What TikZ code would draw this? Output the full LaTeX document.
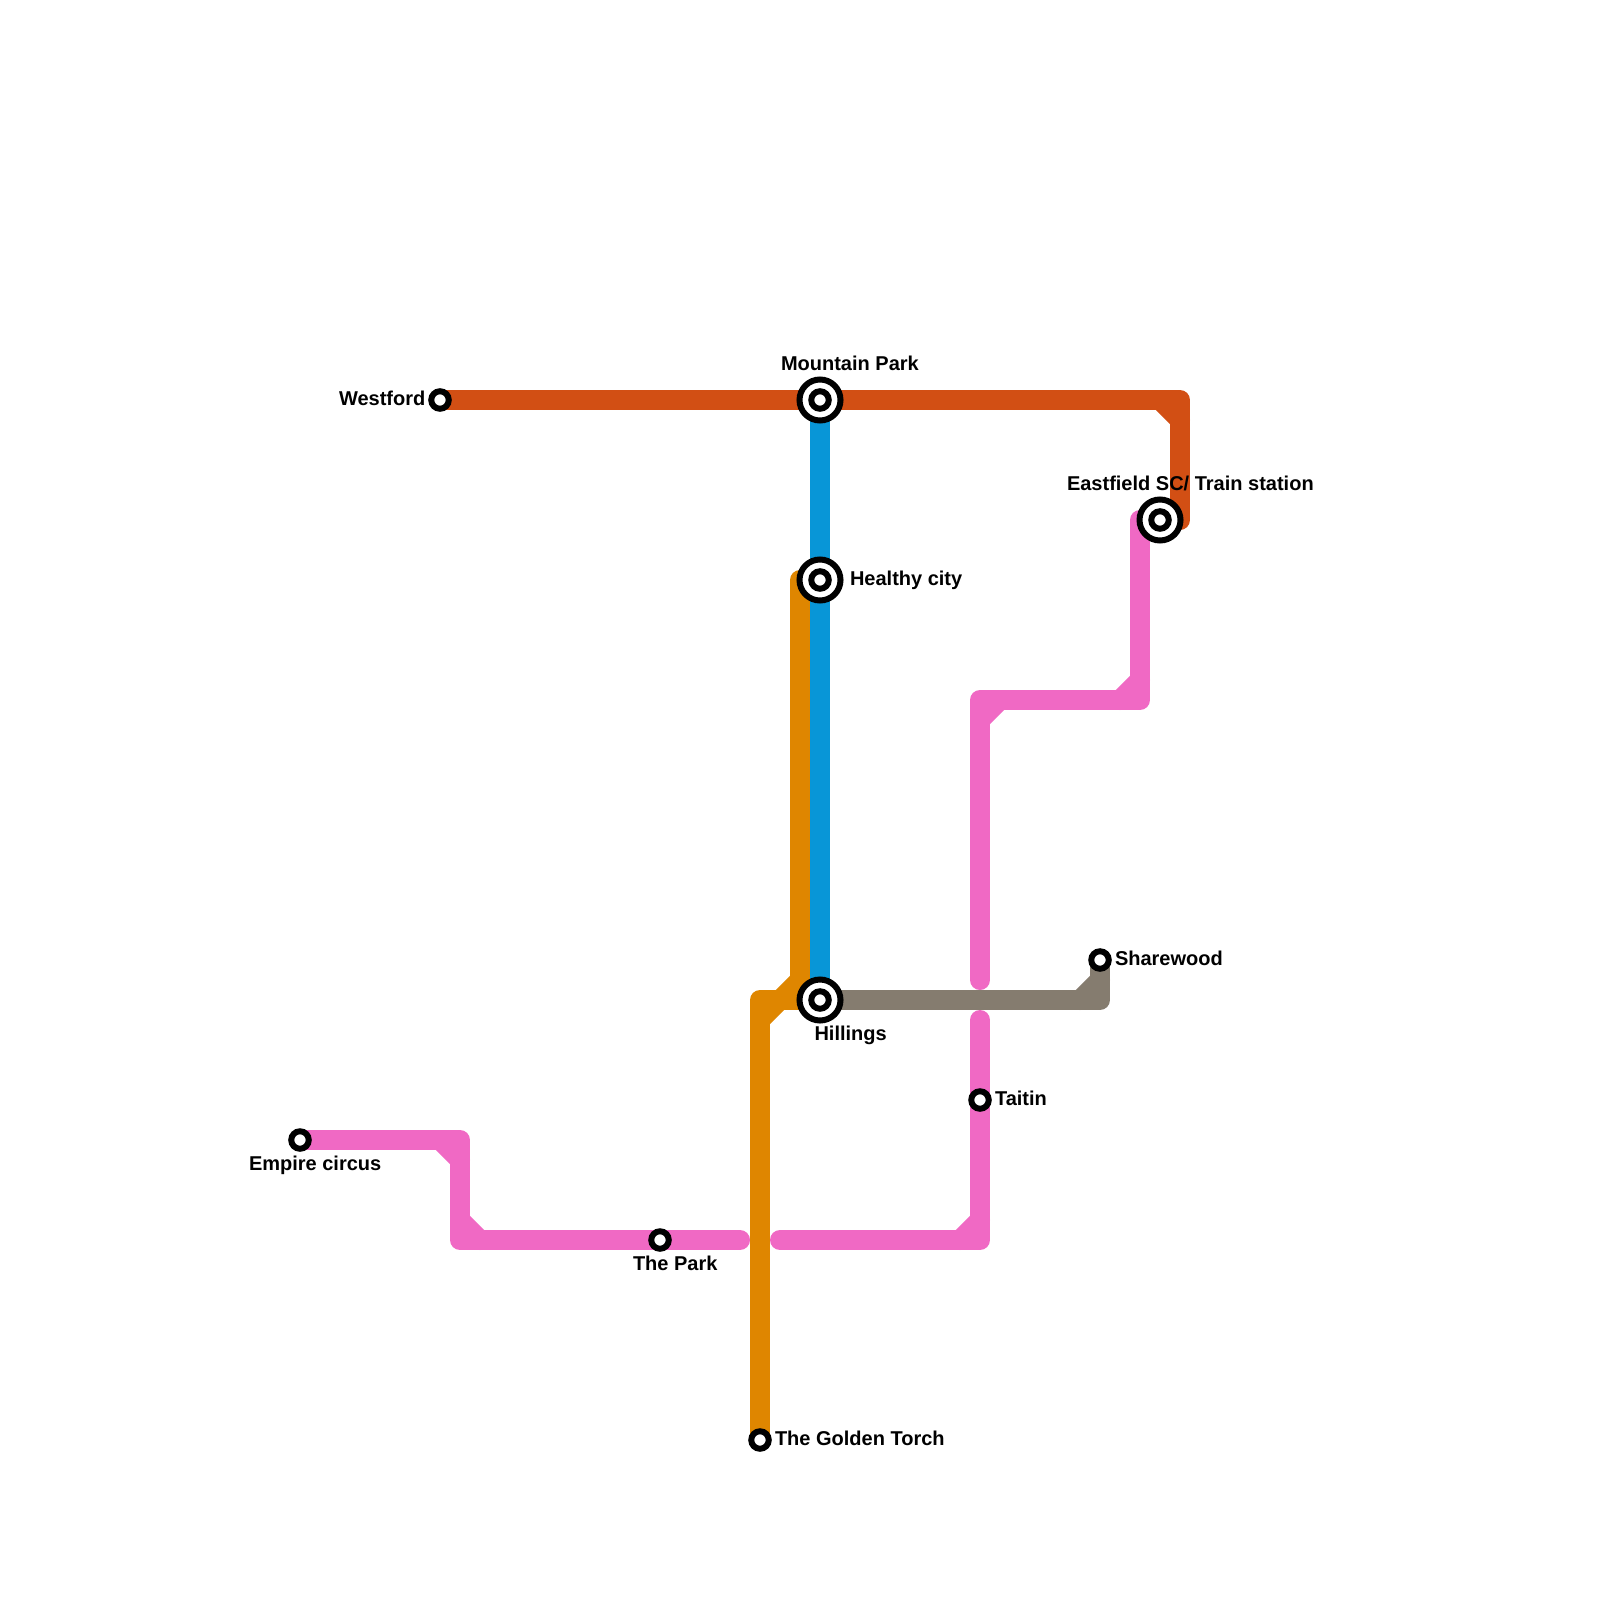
\documentclass[tikz,border=0pt]{standalone}
\usepackage{fontspec}
\setmainfont{Liberation Sans}
\definecolor{redline}{HTML}{D24F14}
\definecolor{pinkline}{HTML}{F069C4}
\definecolor{orangeline}{HTML}{DF8600}
\definecolor{blueline}{HTML}{0896D7}
\definecolor{greyline}{HTML}{857C6F}
\tikzset{
  metro/.style={line width=20pt,line cap=round,line join=round},
  bigstn/.style={circle,draw=black,fill=white,line width=6pt,minimum size=41pt,inner sep=0pt,outer sep=0pt},
  bigcore/.style={circle,draw=black,fill=white,line width=6pt,minimum size=17.5pt,inner sep=0pt,outer sep=0pt},
  smallstn/.style={circle,draw=black,fill=white,line width=6pt,minimum size=17.5pt,inner sep=0pt,outer sep=0pt},
  lab/.style={anchor=base west,inner sep=0pt,outer sep=0pt,font=\fontsize{20}{22}\selectfont\bfseries,text=black}
}
\begin{document}
\begin{tikzpicture}[x=1pt,y=-1pt]
\useasboundingbox[fill=white] (0,0) rectangle (1600,1600);
% route points
\coordinate (westford) at (440,400);
\coordinate (mountain) at (820,400);
\coordinate (healthy) at (820,580);
\coordinate (hillings) at (820,1000);
\coordinate (eastfield) at (1160,520);
\coordinate (sharewood) at (1100,960);
\coordinate (taitin) at (980,1100);
\coordinate (park) at (660,1240);
\coordinate (empire) at (300,1140);
\coordinate (torch) at (760,1440);
\coordinate (r1) at (1180,400);
\coordinate (r2) at (1160,400);
\coordinate (r3) at (1180,420);
\coordinate (r4) at (1180,520);
\coordinate (p1) at (460,1140);
\coordinate (p2) at (440,1140);
\coordinate (p3) at (460,1160);
\coordinate (p4) at (460,1240);
\coordinate (p5) at (460,1220);
\coordinate (p6) at (480,1240);
\coordinate (p7) at (740,1240);
\coordinate (p8) at (780,1240);
\coordinate (p9) at (980,1240);
\coordinate (p10) at (960,1240);
\coordinate (p11) at (980,1220);
\coordinate (p12) at (980,1020);
\coordinate (p13) at (980,980);
\coordinate (p14) at (980,700);
\coordinate (p15) at (980,720);
\coordinate (p16) at (1000,700);
\coordinate (p17) at (1140,700);
\coordinate (p18) at (1120,700);
\coordinate (p19) at (1140,680);
\coordinate (p20) at (1140,520);
\coordinate (o1) at (800,580);
\coordinate (o2) at (800,980);
\coordinate (o3) at (760,1020);
\coordinate (o4) at (760,1000);
\coordinate (g1) at (1100,1000);
\coordinate (g2) at (1080,1000);
\coordinate (g3) at (1100,980);
% lines
\draw[metro,greyline] (hillings) -- (g1) -- (sharewood);
\draw[metro,greyline] (g2) -- (g3);
\draw[metro,pinkline] (empire) -- (p1) -- (p4) -- (p7);
\draw[metro,pinkline] (p2) -- (p3);
\draw[metro,pinkline] (p5) -- (p6);
\draw[metro,pinkline] (p8) -- (p9) -- (p12);
\draw[metro,pinkline] (p10) -- (p11);
\draw[metro,pinkline] (p13) -- (p14) -- (p17) -- (p20);
\draw[metro,pinkline] (p15) -- (p16);
\draw[metro,pinkline] (p18) -- (p19);
\draw[metro,redline] (westford) -- (r1) -- (r4);
\draw[metro,redline] (r2) -- (r3);
\draw[metro,orangeline] (o1) -- (o2) -- (o3);
\draw[metro,orangeline] (hillings) -- (o4) -- (torch);
\draw[metro,blueline] (mountain) -- (hillings);
% stations
\foreach \n/\p in {sMountain/mountain,sHealthy/healthy,sHillings/hillings,sEastfield/eastfield}{
  \node[bigstn] (\n) at (\p) {};
  \node[bigcore] (\n core) at (\p) {};
}
\foreach \n/\p in {sWestford/westford,sSharewood/sharewood,sTaitin/taitin,sPark/park,sEmpire/empire,sTorch/torch}{
  \node[smallstn] (\n) at (\p) {};
}
% labels
\node[lab] (lMountain) at (781,370) {Mountain Park};
\node[lab] (lWestford) at (339,405) {Westford};
\node[lab] (lHealthy) at (850,585) {Healthy city};
\node[lab] (lEastfield) at (1067,490) {Eastfield SC/ Train station};
\node[lab] (lHillings) at (814.5,1040) {Hillings};
\node[lab] (lSharewood) at (1115,965) {Sharewood};
\node[lab] (lTaitin) at (995,1105) {Taitin};
\node[lab] (lPark) at (633,1270) {The Park};
\node[lab] (lEmpire) at (249,1170) {Empire circus};
\node[lab] (lTorch) at (775,1445) {The Golden Torch};
\end{tikzpicture}
\end{document}
